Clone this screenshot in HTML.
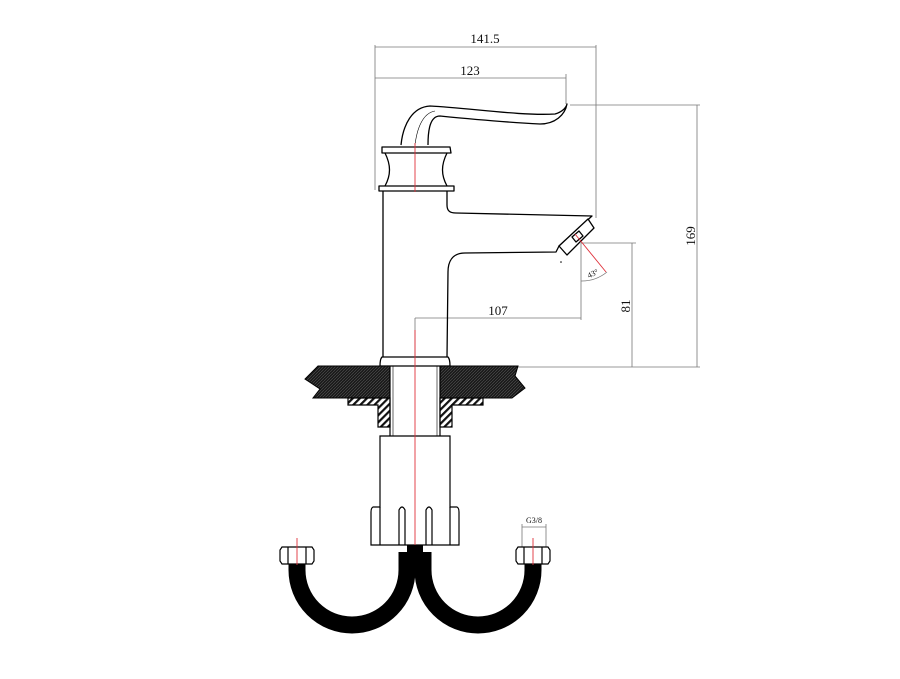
<!DOCTYPE html>
<html><head><meta charset="utf-8"><style>
html,body{margin:0;padding:0;background:#fff;width:900px;height:679px;overflow:hidden}
svg{display:block}
text{font-family:"Liberation Serif",serif;fill:#111}
</style></head><body>
<svg width="900" height="679" viewBox="0 0 900 679" xmlns="http://www.w3.org/2000/svg">
<defs>
<pattern id="hx" width="3" height="3" patternUnits="userSpaceOnUse"><rect width="3" height="3" fill="#1a1a1a"/><path d="M0,3 L3,0" stroke="#555" stroke-width="0.6"/></pattern>
<pattern id="hh" width="5" height="5" patternUnits="userSpaceOnUse" patternTransform="rotate(45)"><rect width="5" height="5" fill="#fff"/><rect width="2.2" height="5" fill="#111"/></pattern>
</defs>
<g stroke="#777" stroke-width="0.8" fill="none">
<line x1="375" y1="45" x2="375" y2="190"/><line x1="596" y1="45" x2="596" y2="218"/>
<line x1="375" y1="47" x2="596" y2="47"/>
<line x1="375" y1="78" x2="566" y2="78"/><line x1="566" y1="74" x2="566" y2="104"/>
<line x1="570" y1="105" x2="700" y2="105"/><line x1="697" y1="105" x2="697" y2="367"/>
<line x1="450" y1="367" x2="700" y2="367"/>
<line x1="581" y1="243" x2="636" y2="243"/><line x1="632" y1="243" x2="632" y2="367"/>
<line x1="581" y1="243" x2="581" y2="320"/>
<line x1="415" y1="318" x2="581" y2="318"/><line x1="415" y1="318" x2="415" y2="360"/>
<path d="M581,281 A40,40 0 0 0 607,272"/>
<line x1="390" y1="462" x2="440" y2="462"/><line x1="390" y1="440" x2="390" y2="464"/><line x1="440" y1="440" x2="440" y2="464"/>
<line x1="522" y1="524" x2="522" y2="548"/><line x1="546" y1="524" x2="546" y2="548"/><line x1="522" y1="527" x2="546" y2="527"/>
</g>
<g font-size="13">
<text x="485" y="43" text-anchor="middle">141.5</text>
<text x="470" y="75" text-anchor="middle">123</text>
<text x="498" y="315" text-anchor="middle">107</text>
<text transform="translate(695,236) rotate(-90)" text-anchor="middle">169</text>
<text transform="translate(630,306) rotate(-90)" text-anchor="middle">81</text>
</g>
<text transform="translate(594,276) rotate(-25)" font-size="8" text-anchor="middle">43°</text>
<text x="415" y="460" font-size="8" text-anchor="middle">M34*1.5</text>
<text x="534" y="523" font-size="8" text-anchor="middle">G3/8</text>

<g stroke="#000" stroke-width="1.3" fill="none" stroke-linejoin="round">
<path d="M401,145 C403,125 412,107 430,106 C470,108 520,116 555,114 C562,112 566,108 567,104 C565,115 555,124 540,124 C500,122 460,118 440,116 C430,116 428,130 428,145"/>
<path d="M415,145 C417,128 423,113 435,111" stroke-width="0.6"/>
<path d="M382,147 L450,147 L451,153 L382,153 Z" fill="#fff"/>
<path d="M385,153 C391,165 391,175 385,186 M447,153 C441,165 441,175 447,186"/>
<path d="M379,186 L454,186 L454,191 L379,191 Z" fill="#fff"/>
<path d="M383,191 L383,357 M447,191 L447,205 C447,211 450,213 456,213 L592,216 L559,246 L556,252 L465,253 C452,253 448,262 448,272 L447,357"/>
<path d="M559,246 L588,219 L594,228 L567,255 Z" fill="#fff"/>
<path d="M572,237 L579,231 L583,236 L576,242 Z"/>
<path d="M382,357 L448,357 Q450,359 450,366 L380,366 Q380,359 382,357 Z" fill="#fff"/>
</g>
<circle cx="561" cy="262" r="0.8" fill="#000"/>
<path d="M318,366 L390,366 L390,398 L313,398 L320,389 L305,379 Z" fill="url(#hx)" stroke="#000" stroke-width="1"/>
<path d="M440,366 L518,366 L515,376 L525,388 L512,398 L440,398 Z" fill="url(#hx)" stroke="#000" stroke-width="1"/>
<g stroke="#000" stroke-width="1.2">
<path d="M348,398 L390,398 L390,427 L378,427 L378,405 L348,405 Z" fill="url(#hh)"/>
<path d="M440,398 L483,398 L483,405 L452,405 L452,427 L440,427 Z" fill="url(#hh)"/>
<line x1="390" y1="366" x2="390" y2="436"/><line x1="440" y1="366" x2="440" y2="436"/>
<line x1="393" y1="366" x2="393" y2="436" stroke-width="0.6"/><line x1="437" y1="366" x2="437" y2="436" stroke-width="0.6"/>
</g>
<g stroke="#000" stroke-width="1.2" fill="#fff">
<path d="M380,436 L450,436 L450,507 L457,507 Q459,508 459,512 L459,545 L371,545 L371,512 Q371,508 373,507 L380,507 Z"/>
<path d="M380,507 L380,545 M450,507 L450,545" fill="none"/>
<path d="M399,545 L399,510 Q402,504 405,510 L405,545 M426,545 L426,510 Q429,504 432,510 L432,545" fill="none"/>
</g>
<g stroke="#000" stroke-width="17" fill="none">
<path d="M297,562 L297,570 A55,55 0 0 0 407,570 L407,552"/>
<path d="M423,552 L423,570 A55,55 0 0 0 533,570 L533,562"/>
</g>
<rect x="407" y="545" width="16" height="20" fill="#000"/>
<g stroke="#000" stroke-width="1.2" fill="#fff">
<path d="M282,547 L312,547 L314,550 L314,561 L312,564 L282,564 L280,561 L280,550 Z"/>
<path d="M288,547 L288,564 M306,547 L306,564" fill="none"/>
<path d="M518,547 L548,547 L550,550 L550,561 L548,564 L518,564 L516,561 L516,550 Z"/>
<path d="M524,547 L524,564 M542,547 L542,564" fill="none"/>
</g>
<g stroke="#e0303a" stroke-width="0.9">
<line x1="415" y1="143" x2="415" y2="192"/>
<line x1="415" y1="330" x2="415" y2="545"/>
<line x1="575" y1="234" x2="606" y2="272"/>
<line x1="297" y1="538" x2="297" y2="565"/>
<line x1="533" y1="538" x2="533" y2="565"/>
</g>
</svg>
</body></html>
